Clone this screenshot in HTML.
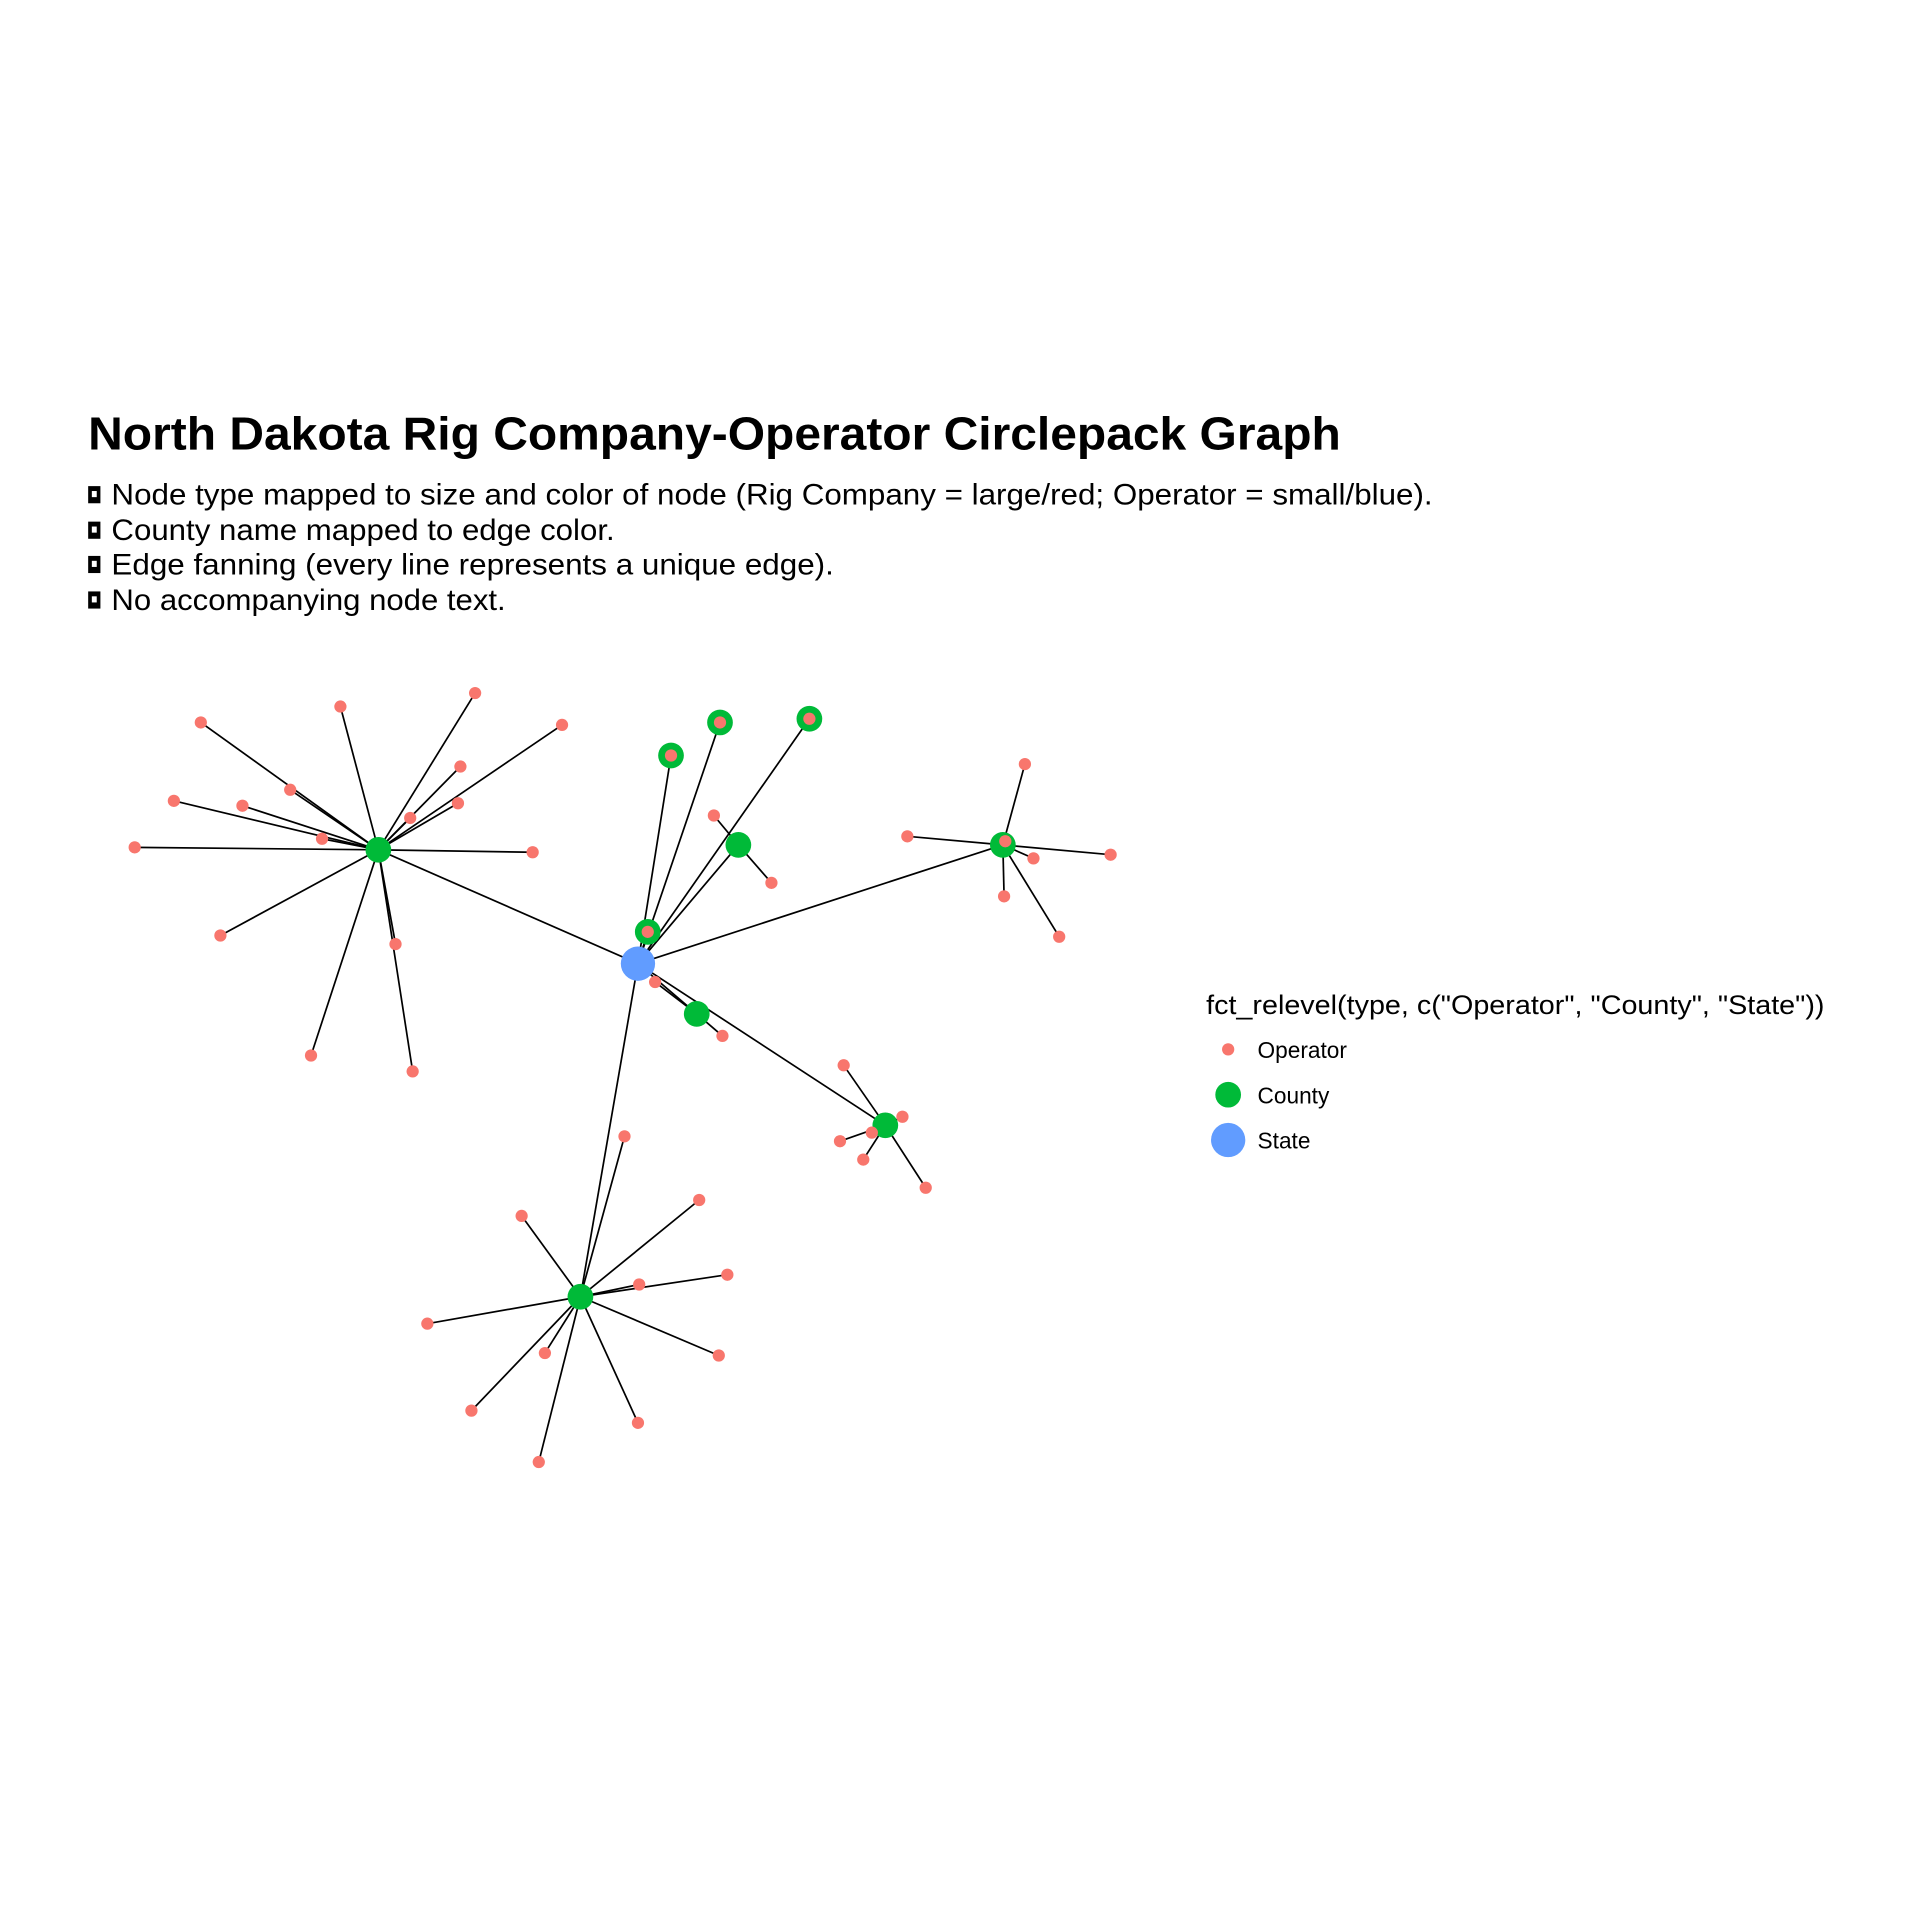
<!DOCTYPE html>
<html><head><meta charset="utf-8"><style>
html,body{margin:0;padding:0;background:#fff;}
svg{display:block;font-family:"Liberation Sans",sans-serif;}
</style></head><body>
<svg id="chart" width="1920" height="1920" viewBox="0 0 1568 1568" xmlns="http://www.w3.org/2000/svg">
<rect width="1568" height="1568" fill="#fff"/>
<text x="72" y="367" font-size="38" font-weight="bold" textLength="1023" lengthAdjust="spacingAndGlyphs">North Dakota Rig Company-Operator Circlepack Graph</text>
<g font-size="24.5">
<g><rect x="72" y="397" width="10" height="14" fill="#000"/><rect x="75" y="401" width="4" height="5" fill="#fff"/><text x="91" y="412" textLength="1079" lengthAdjust="spacingAndGlyphs">Node type mapped to size and color of node (Rig Company = large/red; Operator = small/blue).</text></g>
<g><rect x="72" y="426" width="10" height="14" fill="#000"/><rect x="75" y="430" width="4" height="5" fill="#fff"/><text x="91" y="441" textLength="411" lengthAdjust="spacingAndGlyphs">County name mapped to edge color.</text></g>
<g><rect x="72" y="454" width="10" height="14" fill="#000"/><rect x="75" y="458" width="4" height="5" fill="#fff"/><text x="91" y="469" textLength="590" lengthAdjust="spacingAndGlyphs">Edge fanning (every line represents a unique edge).</text></g>
<g><rect x="72" y="483" width="10" height="14" fill="#000"/><rect x="75" y="487" width="4" height="5" fill="#fff"/><text x="91" y="498" textLength="322" lengthAdjust="spacingAndGlyphs">No accompanying node text.</text></g>
</g>
<g id="edges"></g>
<g id="nodes"></g>
<g>
<text x="985" y="828" font-size="22" textLength="505" lengthAdjust="spacingAndGlyphs">fct_relevel(type, c("Operator", "County", "State"))</text>
<g><circle cx="1003" cy="857" r="5" fill="#F8766D"/><text x="1027" y="864" font-size="18.5">Operator</text></g>
<g><circle cx="1003" cy="894" r="10.5" fill="#00BA38"/><text x="1027" y="901" font-size="18.5">County</text></g>
<g><circle cx="1003" cy="931" r="14" fill="#619CFF"/><text x="1027" y="938" font-size="18.5">State</text></g>
</g>
</svg>
<script>
const stateNode = [521, 787];
const countyX = [309, 474, 819, 723, 603, 569, 529, 548, 588, 661];
const countyY = [694, 1059, 690, 919, 690, 828, 761, 617, 590, 587];
const opCounty = [0,0,0,0,0,0,0,0,0,0,0,0,0,0,0,0,0, 1,1,1,1,1,1,1,1,1,1,1, 2,2,2,2,2,2,2, 3,3,3,3,3,3, 4,4, 5,5, 6,7,8,9];
const opX = [164,278,388,459,376,374,335,237,142,198,263,110,435,180,323,254,337, 510,426,571,594,522,349,445,587,385,521,440, 837,741,821,844,907,820,865, 689,737,712,686,705,756, 583,630, 535,590, 529,548,588,661];
const opY = [590,577,566,592,626,656,668,645,654,658,685,692,696,764,771,862,875, 928,993,980,1041,1049,1081,1105,1107,1152,1162,1194, 624,683,687,701,698,732,765, 870,912,925,932,947,970, 666,721, 802,846, 761,617,590,587];
const NS = "http://www.w3.org/2000/svg";
const eg = document.getElementById('edges'), ng = document.getElementById('nodes');
function line(x1,y1,x2,y2){
  const l = document.createElementNS(NS,'line');
  l.setAttribute('x1',x1);l.setAttribute('y1',y1);l.setAttribute('x2',x2);l.setAttribute('y2',y2);
  l.setAttribute('stroke','#000');l.setAttribute('stroke-width','1.4');
  
  
  eg.appendChild(l);
}
function circ(x,y,r,fill,name){
  const c = document.createElementNS(NS,'circle');
  c.setAttribute('cx',x);c.setAttribute('cy',y);c.setAttribute('r',r);c.setAttribute('fill',fill);
  
  
  ng.appendChild(c);
}
countyX.forEach((x,i)=>line(stateNode[0],stateNode[1],x,countyY[i]));
opX.forEach((x,i)=>{const c=opCounty[i];line(countyX[c],countyY[c],x,opY[i]);});
circ(stateNode[0],stateNode[1],14,'#619CFF','state-node');
countyX.forEach((x,i)=>circ(x,countyY[i],10.5,'#00BA38','county-node'));
opX.forEach((x,i)=>circ(x,opY[i],5,'#F8766D','operator-node'));
</script>
</body></html>
